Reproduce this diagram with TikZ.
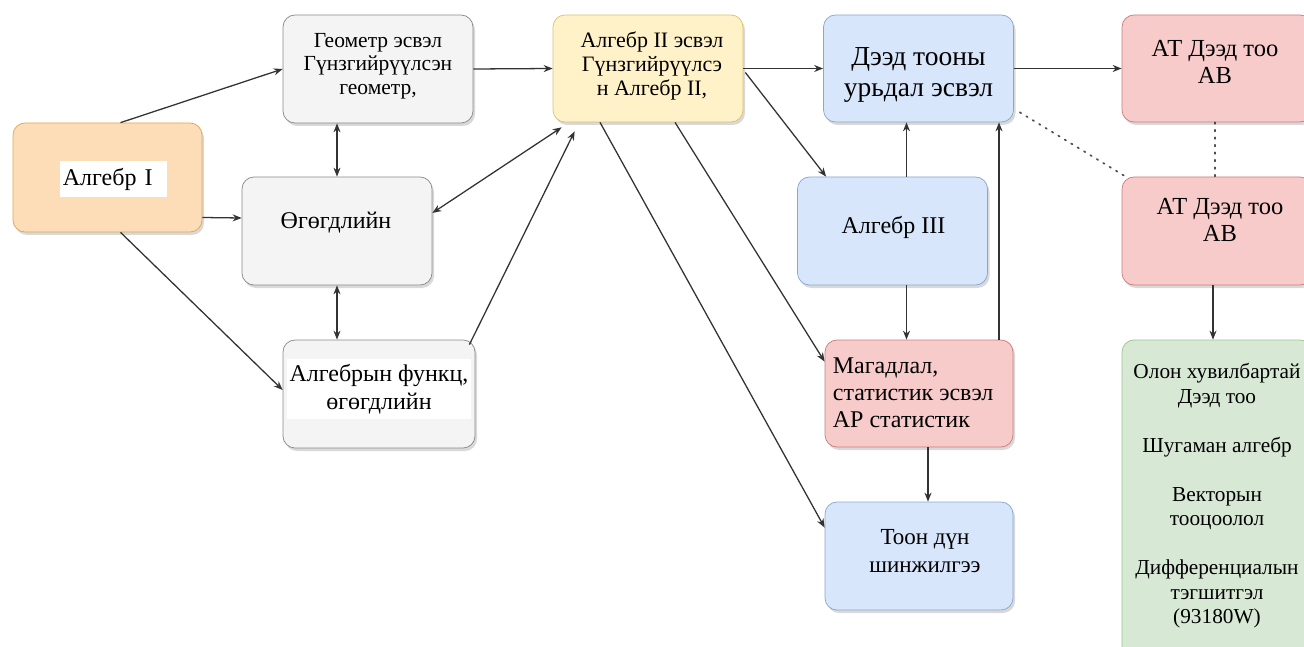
\documentclass[tikz,border=0pt]{standalone}
\usepackage{fontspec}
\setmainfont{Liberation Serif}
\newfontfamily\boxfont{Liberation Serif}
\usetikzlibrary{calc,arrows.meta,shadows}

\definecolor{orangeF}{HTML}{FDDDB8}
\definecolor{orangeD}{HTML}{E0A948}
\definecolor{grayF}{HTML}{F4F4F4}
\definecolor{grayD}{HTML}{8A8A8A}
\definecolor{yellowF}{HTML}{FFF1C8}
\definecolor{yellowD}{HTML}{DDC171}
\definecolor{blueF}{HTML}{D8E6FB}
\definecolor{blueD}{HTML}{8AA6CF}
\definecolor{redF}{HTML}{F8CBCB}
\definecolor{redD}{HTML}{C97C79}
\definecolor{greenF}{HTML}{D7E9D5}
\definecolor{greenD}{HTML}{9EC28C}

\newcommand{\fs}[2]{\boxfont\fontsize{#1}{#2}\selectfont}

\tikzset{
	box/.style={draw, rounded corners=12pt, line width=0.25mm, minimum width=190pt, minimum height=108pt, inner sep=0pt,
		drop shadow={shadow xshift=2pt, shadow yshift=-3pt, opacity=0.3, fill=black!50}},
	graybox/.style={box, draw=grayD, fill=grayF},
	orangebox/.style={box, draw=orangeD, fill=orangeF},
	yellowbox/.style={box, draw=yellowD, fill=yellowF},
	bluebox/.style={box, draw=blueD, fill=blueF},
	redbox/.style={box, draw=redD, fill=redF},
	greenbox/.style={box, draw=greenD, fill=greenF},
	lbl/.style={align=center, inner sep=2pt, font=\fs{21.5}{23.5}},
	arr/.style={line width=0.45mm, color=black!80, -{Stealth[length=9pt,width=7pt]}},
	arrs/.style={arr, {Stealth[length=9pt,width=7pt]}-{Stealth[length=9pt,width=7pt]}},
	dots/.style={line width=0.6mm, color=black!70, dash pattern=on 1.5pt off 6pt, line cap=round}
}

\begin{document}
\begin{tikzpicture}[x=1pt, y=-1pt]
		%%%%% START %%%%%
		\useasboundingbox (0, 0) rectangle (1304, 647);
		
		\node[orangebox, minimum width=189pt, minimum height=109pt] (alg1) at (107.5, 177.5) {};
		\node[graybox] (geom) at (378, 69) {};
		\node[graybox] (data) at (337, 231) {};
		\node[graybox, minimum width=192pt] (afunc) at (379, 394) {};
		
		\node[yellowbox, minimum height=107pt] (alg2) at (648, 68.5) {};
		\node[bluebox, minimum height=107pt] (calc) at (918.5, 68.5) {};
		\node[bluebox] (alg3) at (892.5, 231) {};
		\node[redbox, minimum width=188pt, minimum height=107pt] (prob) at (919, 393.5) {};
		\node[bluebox, minimum width=188pt] (numa) at (919, 556) {};
		
		\node[redbox, minimum height=107pt] (apab) at (1217, 68.5) {};
		\node[redbox] (apabb) at (1217, 231) {};
		\node[greenbox, minimum height=400pt] (multi) at (1217, 540) {};
		
		% texts
		\node[lbl, fill=white, anchor=west, align=left, text width=101pt, minimum height=36pt, inner xsep=3pt, font=\fs{24}{27}] (alg1t) at ($(alg1.west)+(47, 2)$) {Алгебр I};
		\node[lbl] (geomt) at ($(geom)+(0, -3)$) {Геометр эсвэл\\Гүнзгийрүүлсэн\\геометр,};
		\node[lbl, font=\fs{24}{27}] (datat) at ($(data)+(-1, -8)$) {Өгөгдлийн};
		\node[lbl, fill=white, minimum width=184pt, minimum height=60pt, font=\fs{24}{28}] (afunct) at ($(afunc)+(0, -5)$) {Алгебрын функц,\\өгөгдлийн};
		\node[lbl, font=\fs{22}{24}] (alg2t) at ($(alg2)+(4, -3)$) {Алгебр II эсвэл\\Гүнзгийрүүлсэ\\н Алгебр II,};
		\node[lbl, font=\fs{27.5}{31}] (calct) at ($(calc)+(0, 6)$) {Дээд тооны\\урьдал эсвэл};
		\node[lbl, font=\fs{24}{27}] (alg3t) at ($(alg3)+(1, -4)$) {Алгебр III};
		\node[lbl, align=left, anchor=west, font=\fs{24}{27}] (probt) at ($(prob.west)+(6, -1)$) {Магадлал,\\статистик эсвэл\\АР статистик};
		\node[lbl, font=\fs{23}{28}] (numat) at ($(numa)+(6, -5)$) {Тоон дүн\\шинжилгээ};
		\node[lbl, font=\fs{24.5}{27}] (apabt) at ($(apab)+(-2, -7)$) {АТ Дээд тоо\\АВ};
		\node[lbl, font=\fs{24.5}{27}] (apabbt) at ($(apabb)+(3, -11)$) {АТ Дээд тоо\\АВ};
		\node[lbl, anchor=north, font=\fs{21.3}{24.5}] (multit) at ($(multi.north)+(0, 21.5)$) {Олон хувилбартай\\Дээд тоо\\[24.5pt]Шугаман алгебр\\[24.5pt]Векторын\\тооцоолол\\[24.5pt]Дифференциалын\\тэгшитгэл\\(93180W)};
		
		% arrows
		\draw[arr] ($(alg1.north)+(13, 0)$) -- (geom.west);
		\draw[arr] ($(alg1.east)+(0, 40)$) -- ($(data.west)+(0, -13)$);
		\draw[arr] ($(alg1.south)+(13, 0)$) -- ($(afunc.west)+(0, -4)$);
		\draw[arrs] (data.north) -- (data.north |- geom.south);
		\draw[arrs] (data.south) -- (data.south |- afunc.north);
		
		\draw[arr] (geom.east) -- (alg2.west);
		\draw[arrs] ($(data.east)+(0, -18)$) -- ($(alg2.south west)+(9, 5)$);
		\draw[arr] ($(afunc.north east)+(-6, 5)$) -- ($(alg2.south west)+(22, 9)$);
		
		\draw[arr] (alg2.east) -- (calc.west);
		\draw[arr] ($(alg2.east)+(2, 4)$) -- ($(alg3.north west)+(29, 0)$);
		\draw[arr] ($(alg2.south)+(27, 0)$) -- ($(prob.north west)+(0, 22)$);
		\draw[arr] ($(alg2.south)+(-48, 0)$) -- ($(numa.north west)+(0, 26)$);
		
		\draw[arr] ($(alg3.north)+(14, 0)$) -- ($(calc.south)+(-12, 0)$);
		\draw[arr] ($(alg3.south)+(14, 0)$) -- ($(prob.north)+(-12.5, 0)$);
		\draw[arr] ($(prob.north)+(80, 0)$) -- ($(calc.south)+(80.5, 0)$);
		\draw[arr] ($(prob.south)+(9, 0)$) -- ($(numa.north)+(9, 0)$);
		
		\draw[arr] (calc.east) -- (apab.west);
		\draw[dots] ($(calc.south east)+(6, -10)$) -- ($(apabb.north west)+(4, 0)$);
		\draw[dots] ($(apab.south)+(-2, 0)$) -- ($(apabb.north)+(-2, 0)$);
		\draw[arr] ($(apabb.south)+(-4, 0)$) -- ($(multi.north)+(-4, 0)$);
		
		%%%%% END %%%%%
	\end{tikzpicture}
\end{document}
